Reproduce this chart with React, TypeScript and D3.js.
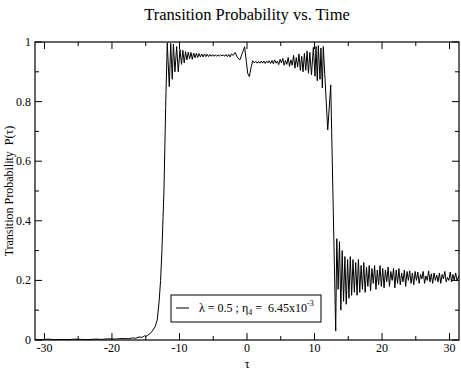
import React from "react";
import * as d3 from "d3";

const title = "Transition Probability vs. Time";
const xLabel = "τ";
const yLabel = "Transition Probability  P(τ)";
const xTicks = [-30, -20, -10, 0, 10, 20, 30];
const xMinorTicks = [-25, -15, -5, 5, 15, 25];
const yTicks = [0, 0.2, 0.4, 0.6, 0.8, 1];
const yTickLabels = ["0", "0.2", "0.4", "0.6", "0.8", "1"];
const yMinorTicks = [0.1, 0.3, 0.5, 0.7, 0.9];
const xDomain = [-31.4, 31.4];
const yDomain = [0, 1];

// [tau, P(tau)]
const curve: [number, number][] = [
  [-31.4, 0.002], [-30.5, 0.001], [-29.5, 0.003], [-28.5, 0.001], [-27.5, 0.002],
  [-26.5, 0.001], [-25.5, 0.003], [-24.5, 0.002], [-23.5, 0.001], [-22.5, 0.003],
  [-21.5, 0.002], [-20.5, 0.004], [-19.5, 0.003], [-18.5, 0.005], [-17.5, 0.004],
  [-17.0, 0.007], [-16.5, 0.006], [-16.0, 0.01], [-15.5, 0.009], [-15.2, 0.014],
  [-14.8, 0.013], [-14.5, 0.02], [-14.2, 0.025], [-13.9, 0.034], [-13.6, 0.045],
  [-13.3, 0.067], [-13.0, 0.134], [-12.8, 0.2], [-12.6, 0.3], [-12.3, 0.5],
  [-12.05, 0.78], [-11.81, 0.997], [-11.51, 0.85], [-11.3, 0.995], [-11.07, 0.875],
  [-10.9, 0.993], [-10.67, 0.9], [-10.42, 0.985], [-10.18, 0.9], [-9.93, 0.975],
  [-9.7, 0.925], [-9.5, 0.972], [-9.3, 0.93], [-9.1, 0.968], [-8.9, 0.94],
  [-8.7, 0.966], [-8.5, 0.944], [-8.3, 0.965], [-8.1, 0.942], [-7.9, 0.963],
  [-7.7, 0.947], [-7.5, 0.962], [-7.3, 0.948], [-7.1, 0.961], [-6.9, 0.95],
  [-6.7, 0.96], [-6.5, 0.95], [-6.3, 0.96], [-6.1, 0.951], [-5.9, 0.959],
  [-5.7, 0.951], [-5.5, 0.958], [-5.3, 0.952], [-5.1, 0.958], [-4.9, 0.952],
  [-4.7, 0.957], [-4.5, 0.952], [-4.3, 0.957], [-4.1, 0.953], [-3.9, 0.957],
  [-3.7, 0.953], [-3.5, 0.957], [-3.3, 0.952], [-3.1, 0.958], [-2.9, 0.951],
  [-2.7, 0.958], [-2.5, 0.95], [-2.3, 0.96], [-2.05, 0.955], [-1.75, 0.965],
  [-1.4, 0.947], [-1.05, 0.94], [-0.7, 0.962], [-0.35, 0.984], [-0.1, 0.935],
  [0.1, 0.895], [0.35, 0.884], [0.6, 0.915], [0.85, 0.937], [1.1, 0.93],
  [1.3, 0.935], [1.5, 0.929], [1.7, 0.935], [1.9, 0.929], [2.1, 0.936],
  [2.3, 0.929], [2.5, 0.936], [2.7, 0.928], [2.9, 0.936], [3.1, 0.93],
  [3.3, 0.937], [3.5, 0.928], [3.7, 0.938], [3.9, 0.927], [4.1, 0.94],
  [4.3, 0.929], [4.5, 0.936], [4.7, 0.924], [4.9, 0.942], [5.1, 0.93],
  [5.3, 0.945], [5.5, 0.922], [5.7, 0.938], [5.9, 0.925], [6.1, 0.948],
  [6.3, 0.918], [6.5, 0.94], [6.7, 0.922], [6.9, 0.955], [7.1, 0.912],
  [7.3, 0.948], [7.5, 0.916], [7.7, 0.96], [7.9, 0.905], [8.1, 0.952],
  [8.3, 0.9], [8.5, 0.962], [8.7, 0.905], [8.9, 0.97], [9.1, 0.895],
  [9.3, 0.965], [9.55, 0.89], [9.83, 0.982], [10.07, 0.885], [10.22, 0.985],
  [10.41, 0.87], [10.56, 0.988], [10.81, 0.875], [10.95, 0.98], [11.16, 0.846],
  [11.3, 0.985], [11.96, 0.705], [12.4, 0.856], [13.14, 0.03], [13.3, 0.34],
  [13.5, 0.17], [13.7, 0.33], [13.9, 0.1], [14.1, 0.3], [14.3, 0.13],
  [14.5, 0.28], [14.7, 0.12], [14.9, 0.27], [15.1, 0.14], [15.3, 0.28],
  [15.5, 0.15], [15.7, 0.27], [15.9, 0.16], [16.1, 0.26], [16.3, 0.15],
  [16.5, 0.27], [16.7, 0.16], [16.9, 0.25], [17.1, 0.17], [17.3, 0.26],
  [17.5, 0.16], [17.7, 0.245], [17.9, 0.18], [18.1, 0.25], [18.3, 0.165],
  [18.5, 0.24], [18.7, 0.19], [18.9, 0.25], [19.1, 0.17], [19.3, 0.235],
  [19.5, 0.185], [19.7, 0.25], [19.9, 0.18], [20.1, 0.24], [20.3, 0.175],
  [20.5, 0.235], [20.7, 0.195], [20.9, 0.245], [21.1, 0.18], [21.3, 0.23],
  [21.5, 0.2], [21.7, 0.24], [21.9, 0.175], [22.1, 0.235], [22.3, 0.19],
  [22.5, 0.24], [22.7, 0.185], [22.9, 0.225], [23.1, 0.195], [23.3, 0.235],
  [23.5, 0.18], [23.7, 0.23], [23.9, 0.2], [24.1, 0.232], [24.3, 0.19],
  [24.5, 0.225], [24.7, 0.185], [24.9, 0.23], [25.1, 0.2], [25.3, 0.228],
  [25.5, 0.19], [25.7, 0.22], [25.9, 0.205], [26.1, 0.23], [26.3, 0.19],
  [26.5, 0.215], [26.7, 0.2], [26.9, 0.232], [27.1, 0.195], [27.3, 0.222],
  [27.5, 0.19], [27.7, 0.225], [27.9, 0.2], [28.1, 0.218], [28.3, 0.195],
  [28.5, 0.225], [28.7, 0.19], [28.9, 0.22], [29.1, 0.205], [29.3, 0.23],
  [29.5, 0.195], [29.7, 0.21], [29.9, 0.2], [30.1, 0.228], [30.3, 0.195],
  [30.5, 0.22], [30.7, 0.2], [30.9, 0.225], [31.1, 0.2], [31.4, 0.215],
];

const FONT = "'Liberation Serif', 'DejaVu Serif', serif";

export default function App() {
  const W = 461, H = 370;
  const L = 35, R = 459, T = 42, B = 340;
  const x = d3.scaleLinear().domain(xDomain).range([L, R]);
  const y = d3.scaleLinear().domain(yDomain).range([B, T]);
  const line = d3.line<[number, number]>().x(d => x(d[0])).y(d => y(d[1]));
  const MAJ = 7, MIN = 4;

  return (
    <svg width={W} height={H} style={{ position: "absolute", left: 0, top: 0, background: "#fff" }} fontFamily={FONT}>
      <rect x={0} y={0} width={W} height={H} fill="#fff" />
      <text x={247} y={20} textAnchor="middle" fontSize={16.5}>{title}</text>
      <path d={line(curve) || ""} fill="none" stroke="#000" strokeWidth={1} />
      <rect x={L} y={T} width={R - L} height={B - T} fill="none" stroke="#000" strokeWidth={1.2} />
      {xTicks.map(t => (
        <g key={"xt" + t}>
          <line x1={x(t)} x2={x(t)} y1={B} y2={B - MAJ} stroke="#000" />
          <line x1={x(t)} x2={x(t)} y1={T} y2={T + MAJ} stroke="#000" />
          <text x={x(t)} y={352} textAnchor="middle" fontSize={12}>{t}</text>
        </g>
      ))}
      {xMinorTicks.map(t => (
        <g key={"xm" + t}>
          <line x1={x(t)} x2={x(t)} y1={B} y2={B - MIN} stroke="#000" />
          <line x1={x(t)} x2={x(t)} y1={T} y2={T + MIN} stroke="#000" />
        </g>
      ))}
      {yTicks.map((t, i) => (
        <g key={"yt" + t}>
          <line x1={L} x2={L + MAJ} y1={y(t)} y2={y(t)} stroke="#000" />
          <line x1={R} x2={R - MAJ} y1={y(t)} y2={y(t)} stroke="#000" />
          <text x={31} y={y(t) + 4} textAnchor="end" fontSize={12}>{yTickLabels[i]}</text>
        </g>
      ))}
      {yMinorTicks.map(t => (
        <g key={"ym" + t}>
          <line x1={L} x2={L + MIN} y1={y(t)} y2={y(t)} stroke="#000" />
          <line x1={R} x2={R - MIN} y1={y(t)} y2={y(t)} stroke="#000" />
        </g>
      ))}
      <text x={247} y={368} textAnchor="middle" fontSize={13}>{xLabel}</text>
      <text transform={`translate(13,${(T + B) / 2}) rotate(-90)`} textAnchor="middle" fontSize={12} xmlSpace="preserve">{yLabel}</text>
      <g>
        <rect x={171} y={295} width={150} height={27} fill="#fff" stroke="#000" strokeWidth={1} />
        <line x1={176} x2={189} y1={308} y2={308} stroke="#000" />
        <text x={199} y={312} fontSize={12} xmlSpace="preserve">
          λ = 0.5 ; η<tspan dy={3} fontSize={8}>4</tspan><tspan dy={-3} fontSize={12}> =  6.45x10</tspan><tspan dy={-6} fontSize={8}>-3</tspan>
        </text>
      </g>
    </svg>
  );
}
